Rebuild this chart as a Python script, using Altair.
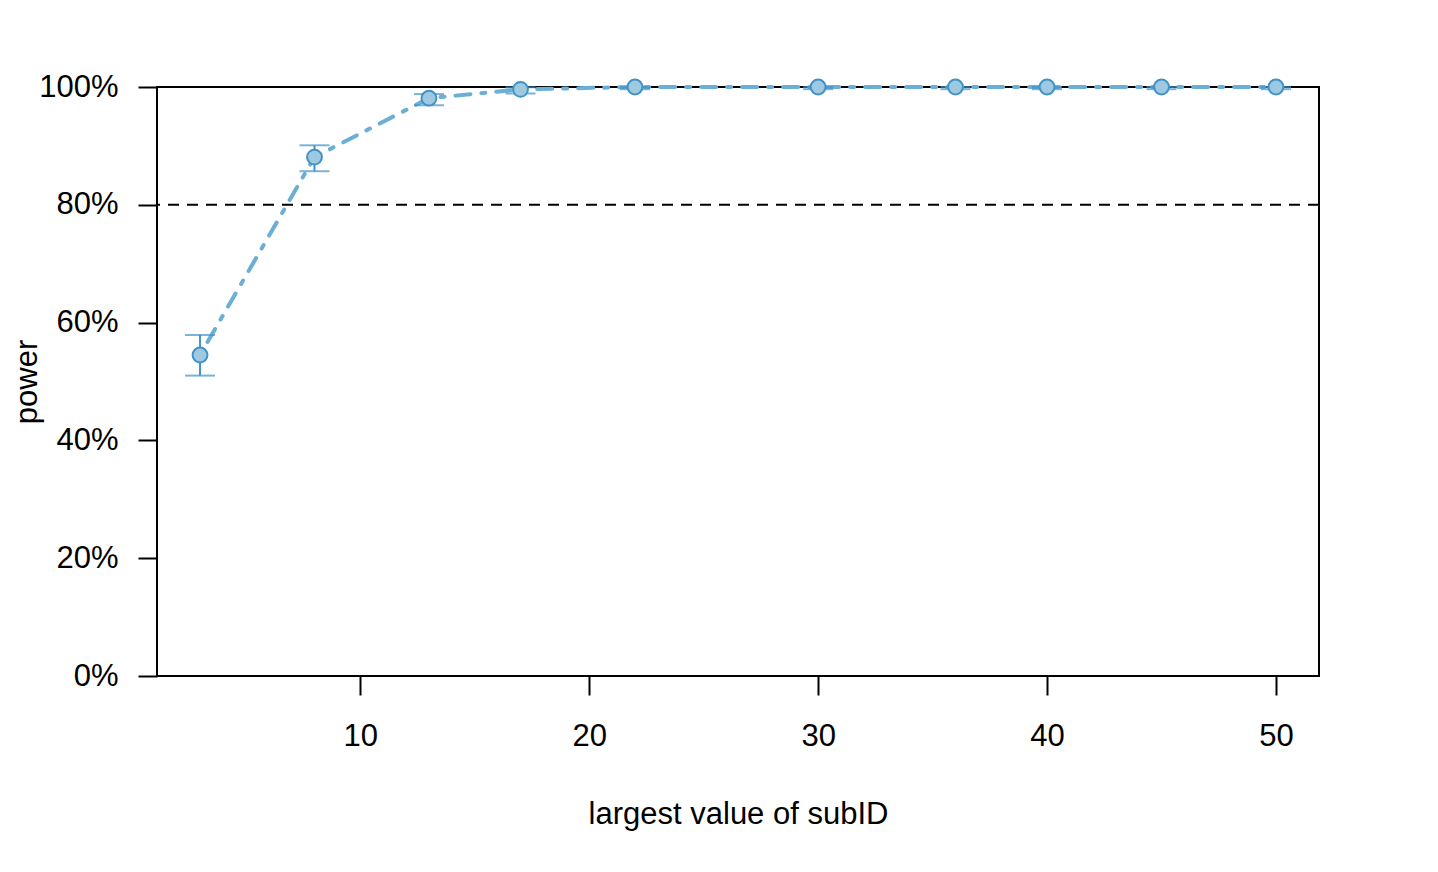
import altair as alt
import pandas as pd

# data
subid = [3, 8, 13, 17, 22, 30, 36, 40, 45, 50]
power = [0.545, 0.881, 0.981, 0.996, 1.0, 1.0, 1.0, 1.0, 1.0, 1.0]
lower = [0.510, 0.857, 0.969, 0.989, 0.9963, 0.9963, 0.9963, 0.9963, 0.9963, 0.9963]
upper = [0.579, 0.901, 0.988, 0.9995, 1.0, 1.0, 1.0, 1.0, 1.0, 1.0]
x_ticks = [10, 20, 30, 40, 50]
y_ticks = [0, 0.2, 0.4, 0.6, 0.8, 1.0]
threshold = [0.8]

df = pd.DataFrame({"subid": subid, "power": power, "lower": lower, "upper": upper})
thr = pd.DataFrame({"y": threshold})

FONT = "Liberation Sans"
FS = 31
LINE = "#6baed6"
DARK = "#4292c6"
FILL = "#9ecae1"

xscale = alt.Scale(domain=[1.12, 51.88], nice=False, zero=False)
yscale = alt.Scale(domain=[0, 1], nice=False, zero=False)

xaxis = alt.Axis(
    values=x_ticks, title="largest value of subID", domain=False, grid=False,
    tickSize=19, tickWidth=2, tickColor="black", labelFontSize=FS, labelFont=FONT,
    labelColor="black", labelPadding=26, labelFlush=False,
    titleFontSize=FS, titleFont=FONT, titleFontWeight="normal", titleColor="black",
    titleBaseline="alphabetic", titleY=147,
)
yaxis = alt.Axis(
    values=y_ticks, format=".0%", title="power", domain=False, grid=False,
    tickSize=19, tickWidth=2, tickColor="black", labelFontSize=FS, labelFont=FONT,
    labelColor="black", labelPadding=20, labelBaseline="middle", labelFlush=False,
    titleFontSize=FS, titleFont=FONT, titleFontWeight="normal", titleColor="black",
    titleAngle=270, titleAlign="center", titleBaseline="alphabetic",
    titleX=-121, titleY=294.5,
)

base = alt.Chart(df)

rule80 = alt.Chart(thr).mark_rule(color="black", strokeWidth=2, strokeDash=[11, 8]).encode(
    y=alt.Y("y:Q", scale=yscale, axis=yaxis)
)

line = base.mark_line(color=LINE, strokeWidth=4, strokeCap="round",
                      strokeDash=[4, 11, 15, 11], clip=False).encode(
    x=alt.X("subid:Q", scale=xscale, axis=xaxis),
    y=alt.Y("power:Q", scale=yscale, axis=yaxis),
)

bars = base.mark_rule(color=DARK, strokeWidth=2).encode(
    x=alt.X("subid:Q", scale=xscale, axis=xaxis),
    y=alt.Y("lower:Q", scale=yscale, axis=yaxis),
    y2="upper:Q",
)
cap_lo = base.mark_tick(color=DARK, orient="horizontal", size=30, thickness=2).encode(
    x=alt.X("subid:Q", scale=xscale, axis=xaxis),
    y=alt.Y("lower:Q", scale=yscale, axis=yaxis),
)
cap_hi = base.mark_tick(color=DARK, orient="horizontal", size=30, thickness=2).encode(
    x=alt.X("subid:Q", scale=xscale, axis=xaxis),
    y=alt.Y("upper:Q", scale=yscale, axis=yaxis),
)
points = base.mark_point(shape="circle", filled=True, fill=FILL, stroke=DARK,
                         strokeWidth=2, size=220, opacity=1).encode(
    x=alt.X("subid:Q", scale=xscale, axis=xaxis),
    y=alt.Y("power:Q", scale=yscale, axis=yaxis),
)

chart = alt.layer(rule80, line, bars, cap_lo, cap_hi, points).properties(
    width=1162, height=589,
    autosize=alt.AutoSizeParams(type="none"),
    padding={"left": 149, "top": 79, "right": 60, "bottom": 180},
    background="white",
).configure_view(stroke="black", strokeWidth=2)

chart.save("out.html", embed_options={"renderer": "svg", "actions": False})
